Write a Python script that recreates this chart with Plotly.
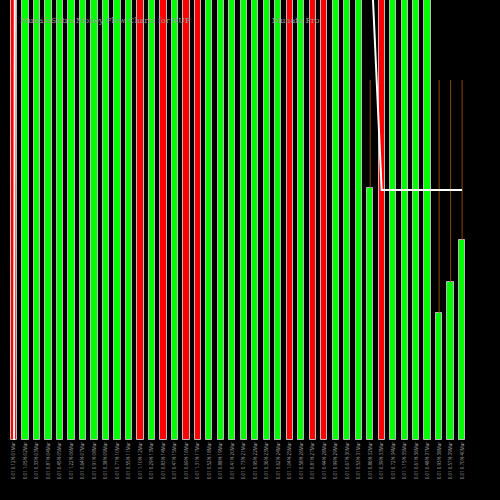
import plotly.graph_objects as go

pcts = [0.12,1.05,0.33,0.87,0.45,1.22,0.64,0.91,0.38,0.77,0.55,1.10,0.29,0.83,0.47,0.69,1.31,0.52,0.88,0.41,0.73,0.95,0.36,0.62,1.04,0.58,0.81,0.44,0.99,0.67,0.53,0.86,0.39,0.72,1.15,0.61,0.48,0.93,0.57,0.70]
labels = [f"0.01 {v:.2f}% {d:02d}Mar" for d, v in zip(range(1, 41), pcts)]
colors_code = "RGGGGGGGGGGRGRGRRGGGGGGGRGRRGGGGRGGGGGGG"
volumes = [150]*31 + [57.3] + [150]*5 + [28.9, 35.9, 45.5]
highs = [None]*31 + [81.8] + [None]*5 + [81.8, 81.8, 81.8]
price = [-5] + [1500] + [300]*29 + [114] + [56.8]*8

x = list(range(len(volumes)))
colors = ["#ff0000" if c == "R" else "#00ff00" for c in colors_code]

wx, wy = [], []
for i, (h, v) in enumerate(zip(highs, volumes)):
    if h is not None:
        wx += [i, i, None]; wy += [v, h, None]

fig = go.Figure()
fig.add_trace(go.Scatter(x=wx, y=wy, mode="lines", line=dict(color="#8a4a00", width=1), hoverinfo="skip"))
fig.add_trace(go.Bar(x=x, y=volumes, marker=dict(color=colors, line=dict(color="#bbbbbb", width=1)), width=0.55))
fig.add_trace(go.Scatter(x=x, y=price, mode="lines", line=dict(color="white", width=2)))
fig.update_layout(
    width=500, height=500, paper_bgcolor="black", plot_bgcolor="black",
    margin=dict(l=0, r=0, t=0, b=60, autoexpand=False), showlegend=False, bargap=0,
    xaxis=dict(range=[-14/11.49, 486/11.49], tickmode="array", tickvals=x, ticktext=labels,
               tickangle=-90, tickfont=dict(size=4.5, color="#aaaaaa"), showgrid=False, zeroline=False, ticks=""),
    yaxis=dict(range=[0, 100], visible=False, showgrid=False),
    annotations=[
        dict(x=18/500, y=0.968, xref="paper", yref="paper", text="MunafaSutra Money Flow Charts for RUP", showarrow=False,
             xanchor="left", font=dict(size=8, color="#999999", family="DejaVu Serif")),
        dict(x=270/500, y=0.968, xref="paper", yref="paper", text="Munafa Pro", showarrow=False, xanchor="left",
             font=dict(size=8, color="#999999", family="DejaVu Serif")),
    ],
)
fig.write_html("out.html", config={"displayModeBar": False},
               post_script="document.body.style.margin='0';document.body.style.background='black';")
